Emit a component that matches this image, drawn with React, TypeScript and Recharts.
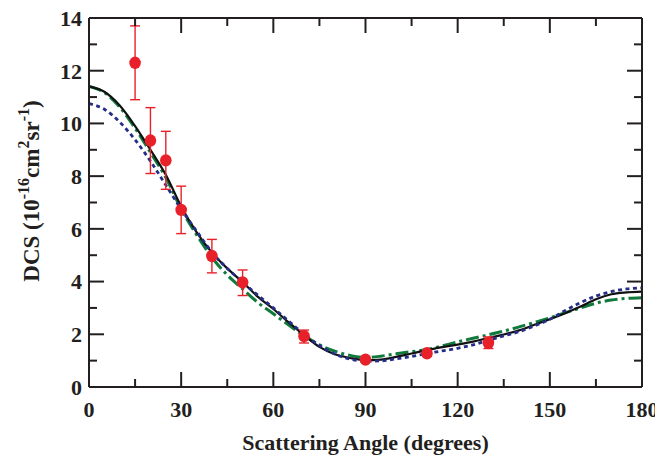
import React from "react";
import { ComposedChart, Line, Scatter, XAxis, YAxis, ErrorBar, Label } from "recharts";

// Scattering angle grid (degrees) for the theoretical curves
const angles = [0, 5, 10, 15, 20, 25, 30, 35, 40, 45, 50, 55, 60, 65, 70, 75, 80, 85, 90, 95, 100, 105, 110, 115, 120, 125, 130, 135, 140, 145, 150, 155, 160, 165, 170, 175, 180];

// Solid black curve
const solidDCS = [11.41, 11.2, 10.68, 9.9, 9.0, 8.05, 6.85, 5.88, 5.1, 4.5, 3.98, 3.42, 2.96, 2.45, 1.97, 1.52, 1.24, 1.1, 1.02, 1.04, 1.14, 1.27, 1.4, 1.51, 1.61, 1.72, 1.86, 1.99, 2.15, 2.36, 2.57, 2.8, 3.05, 3.33, 3.52, 3.59, 3.62];
// Green dash-dot curve
const dashDotDCS = [11.4, 11.17, 10.62, 9.82, 8.9, 7.95, 6.75, 5.78, 4.92, 4.25, 3.72, 3.2, 2.78, 2.35, 1.95, 1.6, 1.36, 1.2, 1.12, 1.17, 1.26, 1.34, 1.42, 1.56, 1.71, 1.85, 1.98, 2.12, 2.28, 2.45, 2.62, 2.82, 3.0, 3.18, 3.3, 3.36, 3.39];
// Blue dotted curve
const dottedDCS = [10.75, 10.54, 10.05, 9.38, 8.57, 7.66, 6.75, 5.92, 5.12, 4.5, 3.98, 3.48, 3.0, 2.5, 2.0, 1.58, 1.25, 1.06, 0.98, 0.99, 1.07, 1.16, 1.27, 1.37, 1.47, 1.6, 1.77, 1.94, 2.1, 2.32, 2.57, 2.9, 3.2, 3.45, 3.62, 3.72, 3.76];

// Experimental points
const expAngles = [15, 20, 25, 30, 40, 50, 70, 90, 110, 130];
const expDCS = [12.3, 9.35, 8.6, 6.72, 4.97, 3.97, 1.93, 1.04, 1.28, 1.67];
const expErrLow = [1.4, 1.25, 1.1, 0.9, 0.64, 0.5, 0.26, 0.06, 0.1, 0.21];
const expErrHigh = [1.4, 1.25, 1.1, 0.9, 0.63, 0.47, 0.23, 0.06, 0.1, 0.23];

// Axis ticks
const xMajorTicks = [0, 30, 60, 90, 120, 150, 180];
const xMinorTicks = [15, 45, 75, 105, 135, 165];
const yMajorTicks = [0, 2, 4, 6, 8, 10, 12, 14];
const yMinorTicks = [1, 3, 5, 7, 9, 11, 13];

const curveRows = angles.map((a, i) => ({
  angle: a,
  solid: solidDCS[i],
  dashdot: dashDotDCS[i],
  dotted: dottedDCS[i],
}));

const expRows = expAngles.map((a, i) => ({
  angle: a,
  dcs: expDCS[i],
  err: [expErrLow[i], expErrHigh[i]],
}));

const INK = "#231f20";
const FONT = "'Liberation Serif', 'Times New Roman', serif";
const tickStyle = { fill: INK, fontSize: 22, fontWeight: 700, fontFamily: FONT };
const THIN = 0.001;

const NoTick = () => <g />;

const XTitle = (props: any) => {
  const vb = props.viewBox || { x: 89, y: 387, width: 553, height: 60 };
  return (
    <text
      x={vb.x + vb.width / 2}
      y={vb.y + 63}
      textAnchor="middle"
      fill={INK}
      fontSize={22}
      fontWeight={700}
      fontFamily={FONT}
    >
      Scattering Angle (degrees)
    </text>
  );
};

const YTitle = (props: any) => {
  const vb = props.viewBox || { x: 0, y: 18, width: 89, height: 369 };
  const cx = vb.x + 38.5;
  const cy = vb.y + 173;
  return (
    <text
      transform={`rotate(-90 ${cx} ${cy})`}
      x={cx}
      y={cy}
      textAnchor="middle"
      fill={INK}
      fontSize={23}
      fontWeight={700}
      fontFamily={FONT}
    >
      DCS (10
      <tspan dy={-10} fontSize={16}>-16</tspan>
      <tspan dy={10}>cm</tspan>
      <tspan dy={-10} fontSize={16}>2</tspan>
      <tspan dy={10}>sr</tspan>
      <tspan dy={-10} fontSize={16}>-1</tspan>
      <tspan dy={10}>)</tspan>
    </text>
  );
};

const Dot = (props: any) => {
  if (props.cx == null || props.cy == null) return <g />;
  return <ellipse cx={props.cx} cy={props.cy} rx={5.8} ry={6.2} fill="#e8202a" />;
};

const axisPairs = [
  ["xbM", "ylM"],
  ["xbm", "ylm"],
  ["xtM", "yrM"],
  ["xtm", "yrm"],
];

export default function App() {
  const axisLine = { stroke: INK, strokeWidth: 2 };
  const tickLine = { stroke: INK, strokeWidth: 2 };
  return (
    <div style={{ width: 663, height: 455, marginLeft: -8, marginTop: -8 }}>
      <ComposedChart
        width={663}
        height={455}
        data={curveRows}
        margin={{ top: 18, right: 21, bottom: 8, left: 0 }}
      >
        <XAxis
          xAxisId="x"
          dataKey="angle"
          type="number"
          domain={[0, 180]}
          ticks={xMajorTicks}
          allowDataOverflow
          orientation="bottom"
          height={60}
          tickSize={0}
          tickMargin={14}
          tickLine={false}
          axisLine={axisLine}
          tick={tickStyle}
          interval={0}
        >
          <Label content={XTitle} />
        </XAxis>
        <XAxis xAxisId="xbM" dataKey="angle" type="number" domain={[0, 180]} ticks={xMajorTicks} allowDataOverflow orientation="bottom" mirror height={THIN} tickSize={15} tickLine={tickLine} axisLine={false} tick={NoTick} interval={0} />
        <XAxis xAxisId="xbm" dataKey="angle" type="number" domain={[0, 180]} ticks={xMinorTicks} allowDataOverflow orientation="bottom" mirror height={THIN} tickSize={8} tickLine={tickLine} axisLine={false} tick={NoTick} interval={0} />
        <XAxis xAxisId="xtM" dataKey="angle" type="number" domain={[0, 180]} ticks={xMajorTicks} allowDataOverflow orientation="top" mirror height={THIN} tickSize={15} tickLine={tickLine} axisLine={axisLine} tick={NoTick} interval={0} />
        <XAxis xAxisId="xtm" dataKey="angle" type="number" domain={[0, 180]} ticks={xMinorTicks} allowDataOverflow orientation="top" mirror height={THIN} tickSize={8} tickLine={tickLine} axisLine={false} tick={NoTick} interval={0} />

        <YAxis
          yAxisId="y"
          type="number"
          domain={[0, 14]}
          ticks={yMajorTicks}
          allowDataOverflow
          orientation="left"
          width={89}
          tickSize={0}
          tickMargin={7}
          tickLine={false}
          axisLine={axisLine}
          tick={tickStyle}
          interval={0}
        >
          <Label content={YTitle} />
        </YAxis>
        <YAxis yAxisId="ylM" type="number" domain={[0, 14]} ticks={yMajorTicks} allowDataOverflow orientation="left" mirror width={THIN} tickSize={15} tickLine={tickLine} axisLine={false} tick={NoTick} interval={0} />
        <YAxis yAxisId="ylm" type="number" domain={[0, 14]} ticks={yMinorTicks} allowDataOverflow orientation="left" mirror width={THIN} tickSize={8} tickLine={tickLine} axisLine={false} tick={NoTick} interval={0} />
        <YAxis yAxisId="yrM" type="number" domain={[0, 14]} ticks={yMajorTicks} allowDataOverflow orientation="right" mirror width={THIN} tickSize={15} tickLine={tickLine} axisLine={axisLine} tick={NoTick} interval={0} />
        <YAxis yAxisId="yrm" type="number" domain={[0, 14]} ticks={yMinorTicks} allowDataOverflow orientation="right" mirror width={THIN} tickSize={8} tickLine={tickLine} axisLine={false} tick={NoTick} interval={0} />

        {axisPairs.map(([xa, ya]) => (
          <Line
            key={xa}
            xAxisId={xa}
            yAxisId={ya}
            dataKey="solid"
            stroke="none"
            strokeOpacity={0}
            dot={false}
            activeDot={false}
            legendType="none"
            isAnimationActive={false}
          />
        ))}

        <Line xAxisId="x" yAxisId="y" type="monotone" dataKey="dashdot" stroke="#0f7a3c" strokeWidth={3} strokeDasharray="13 4 3 4" dot={false} activeDot={false} isAnimationActive={false} />
        <Line xAxisId="x" yAxisId="y" type="monotone" dataKey="solid" stroke="#111111" strokeWidth={2.2} dot={false} activeDot={false} isAnimationActive={false} />
        <Line xAxisId="x" yAxisId="y" type="monotone" dataKey="dotted" stroke="#262d88" strokeWidth={2.8} strokeDasharray="4 3.5" dot={false} activeDot={false} isAnimationActive={false} />
        <Scatter xAxisId="x" yAxisId="y" data={expRows} dataKey="dcs" shape={Dot} isAnimationActive={false}>
          <ErrorBar dataKey="err" direction="y" width={5} stroke="#e8202a" strokeWidth={1.4} />
        </Scatter>
      </ComposedChart>
    </div>
  );
}
